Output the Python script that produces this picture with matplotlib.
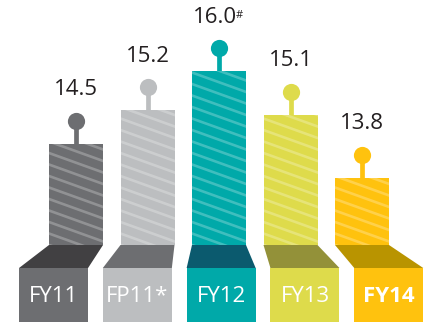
import matplotlib
matplotlib.use("Agg")
import matplotlib.pyplot as plt
from matplotlib.patches import Polygon, Rectangle
import numpy as np

categories = ["FY11", "FP11*", "FY12", "FY13", "FY14"]
values = [14.5, 15.2, 16.0, 15.1, 13.8]
value_labels = ["14.5", "15.2", "16.0", "15.1", "13.8"]
notes = ["", "", "#", "", ""]
bar_colors = ["#6d6e71", "#bcbec0", "#00a9a9", "#dedb4b", "#ffc20e"]
base_colors = ["#414042", "#6d6e71", "#0b5a6e", "#939139", "#b99400"]
label_bold = [False, False, False, False, True]

W, H = 429, 323
fig = plt.figure(figsize=(W / 100, H / 100), dpi=100)
ax = fig.add_axes([0, 0, 1, 1])
ax.set_axis_off()

# scales: px per unit
sx, sy = 71.5, 48.2
x0_px = 76.0
base = 12.4
ytop = base + 245 / sy
ax.set_xlim(-x0_px / sx, (W - x0_px) / sx)
ax.set_ylim(ytop - H / sy, ytop)

font = "Open Sans"
x = np.arange(len(categories))
bw = 54 / sx
heights = [v - base for v in values]
bars = ax.bar(x, heights, bottom=base, width=bw, color=bar_colors, linewidth=0, zorder=2)

# diagonal hatch lines
slope = -0.36 * sx / sy
spacing = 11.5 / sy
for b in bars:
    xl, xr = b.get_x(), b.get_x() + b.get_width()
    for k in range(-5, 60):
        y0 = base + k * spacing
        ln, = ax.plot([xl - 0.1, xr + 0.1],
                      [y0 - slope * 0.1, y0 + slope * (xr - xl + 0.1)],
                      color="white", alpha=0.25, lw=1.9, zorder=3,
                      solid_capstyle="butt")
        ln.set_clip_path(b)

# lollipops
stem = 23 / sy
for i, (v, c) in enumerate(zip(values, bar_colors)):
    ax.plot([x[i], x[i]], [v, v + stem], color=c, lw=3.4, zorder=2,
            solid_capstyle="butt")
    ax.plot(x[i], v + stem, "o", ms=12.4, color=c, mec="none", zorder=3)
    t = ax.text(x[i] - (0.06 if notes[i] else 0), v + stem + 31 / sy,
                value_labels[i], ha="center", va="center", fontsize=16,
                family=font, color="#231f20")
    if notes[i]:
        ax.annotate(notes[i], xy=(1.0, 0.86), xycoords=t, ha="left", va="top",
                    fontsize=8, family=font, color="#231f20",
                    xytext=(-0.5, 0), textcoords="offset points")

# base boxes with perspective
trap_bottom = ytop - 268 / sy
box_bottom = ytop - 322 / sy
spread = 83.8 / sx
box_w = 69 / sx
for i in range(len(categories)):
    bc = 2 + (x[i] - 2) * spread + 0.03
    bl, br = x[i] - bw / 2, x[i] + bw / 2
    poly = Polygon([(bl, base), (br, base), (bc + box_w / 2, trap_bottom),
                    (bc - box_w / 2, trap_bottom)], closed=True,
                   color=base_colors[i], lw=0, zorder=2)
    ax.add_patch(poly)
    ax.add_patch(Rectangle((bc - box_w / 2, box_bottom), box_w,
                           trap_bottom - box_bottom, color=bar_colors[i],
                           lw=0, zorder=2))
    ax.text(bc, (trap_bottom + box_bottom) / 2 - 1 / sy, categories[i],
            ha="center", va="center", fontsize=16, family=font,
            color="white", fontweight="bold" if label_bold[i] else "normal",
            zorder=4)

fig.savefig("out.png", dpi=100)
